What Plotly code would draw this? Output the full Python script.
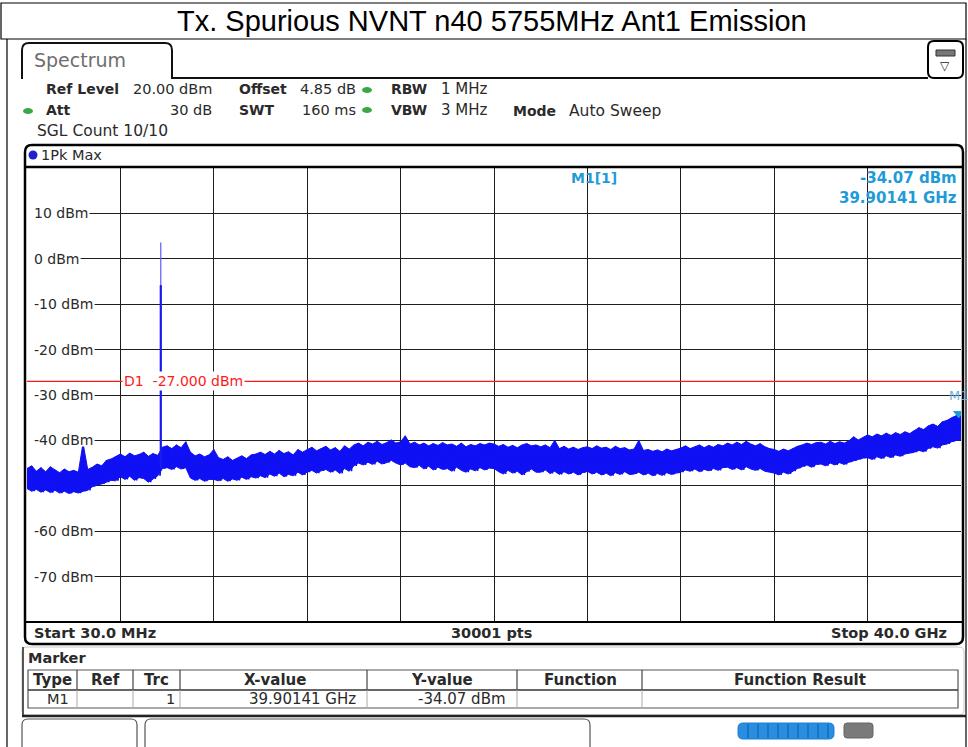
import numpy as np
import plotly.graph_objects as go

# ---------------- data ----------------
start_ghz = 0.03
stop_ghz = 40.0
n_env = 201  # envelope samples across the sweep

# peak-hold envelope of the noise floor (dBm), upper and lower edge of the trace
upper_dbm = [
    -46.2, -45.6, -46.8, -46.0, -46.9, -45.8, -46.5, -47.1, -46.3, -46.9,
    -46.6, -47.0, -40.6, -46.4, -45.9, -45.2, -45.6, -44.4, -44.1, -43.6,
    -43.0, -43.6, -42.8, -43.4, -43.1, -42.6, -43.5, -42.9, -43.3, -41.5,
    -41.2, -41.8, -41.0, -41.6, -40.3, -42.6, -43.4, -43.0, -43.6, -43.2,
    -42.0, -43.8, -44.2, -43.6, -44.4, -43.9, -43.4, -44.0, -43.2, -43.0,
    -42.6, -43.1, -42.4, -43.0, -42.2, -42.9, -42.5, -43.2, -42.0, -42.6,
    -42.0, -41.5, -42.3, -41.8, -41.3, -42.1, -41.6, -42.4, -41.2, -41.9,
    -41.0, -40.6, -41.2, -40.4, -40.8, -40.2, -40.9, -40.5, -39.9, -40.6,
    -40.3, -39.0, -40.8, -40.4, -41.0, -40.6, -41.2, -40.7, -41.1, -40.5,
    -41.0, -40.8, -41.3, -40.6, -41.4, -40.9, -41.2, -40.7, -41.0, -40.6,
    -40.8, -41.3, -40.9, -41.5, -41.1, -41.6, -41.0, -40.7, -41.2, -41.0,
    -41.4, -41.0, -41.6, -40.0, -41.8, -41.3, -41.9, -41.5, -42.0, -41.6,
    -41.4, -41.8, -41.2, -41.7, -41.5, -42.0, -41.3, -41.8, -41.6, -42.1,
    -41.9, -40.0, -42.2, -42.0, -42.4, -42.1, -42.5, -41.9, -42.3, -42.0,
    -41.7, -41.2, -41.8, -41.4, -41.0, -41.6, -41.1, -41.5, -40.9, -41.2,
    -40.6, -41.0, -40.4, -40.9, -40.2, -40.8, -41.2, -40.7, -41.4, -41.8,
    -42.0, -42.4, -41.9, -42.3, -41.8, -41.3, -41.0, -40.6, -40.9, -40.5,
    -40.4, -40.8, -40.2, -40.7, -40.3, -40.6, -40.1, -39.2, -39.9, -39.4,
    -38.8, -39.2, -38.6, -39.0, -38.4, -38.9, -38.3, -38.7, -38.1, -38.5,
    -37.8, -37.2, -37.6, -36.8, -36.4, -36.9, -35.9, -35.6, -35.0, -34.6,
    -34.1,
]
lower_dbm = [
    -50.6, -51.2, -50.8, -51.4, -50.9, -51.5, -51.0, -51.6, -51.2, -51.7,
    -51.3, -51.6, -51.2, -51.0, -50.2, -49.8, -49.6, -49.2, -48.8, -48.9,
    -48.0, -48.6, -47.9, -48.8, -48.2, -48.4, -49.2, -48.5, -47.8, -46.2,
    -46.0, -46.4, -45.8, -46.3, -46.0, -48.3, -48.8, -48.4, -49.0, -48.6,
    -48.6, -48.9, -48.4, -49.0, -48.5, -48.8, -48.1, -48.6, -48.0, -48.3,
    -47.8, -48.2, -47.4, -47.9, -47.2, -48.0, -47.5, -47.8, -47.0, -47.6,
    -47.0, -46.6, -47.2, -46.7, -46.4, -47.0, -46.5, -47.3, -46.2, -46.8,
    -45.6, -45.0, -45.4, -44.8, -45.3, -44.6, -45.2, -44.9, -44.4, -45.0,
    -45.4, -45.0, -45.8, -46.0, -45.5, -46.3, -45.7, -46.5, -45.9, -46.4,
    -46.2, -46.8, -45.9, -46.6, -47.0, -46.3, -46.7, -46.0, -46.5, -46.1,
    -46.2, -46.9, -47.4, -46.6, -47.2, -46.8, -47.6, -46.9, -46.3, -47.0,
    -47.0, -46.5, -47.3, -46.8, -47.5, -46.9, -47.4, -47.0, -47.6, -47.1,
    -46.8, -47.4, -47.0, -47.6, -47.2, -47.8, -47.1, -47.5, -46.9, -47.5,
    -47.4, -47.0, -47.6, -47.2, -47.8, -47.3, -47.7, -47.1, -47.5, -47.2,
    -47.0, -46.5, -46.8, -46.3, -46.9, -46.4, -46.7, -46.2, -46.6, -46.0,
    -45.9, -46.4, -46.0, -46.5, -45.8, -46.3, -46.6, -46.2, -46.8, -47.0,
    -47.2, -47.6, -47.0, -47.4, -46.8, -46.2, -45.8, -45.4, -45.9, -45.3,
    -45.2, -45.6, -45.0, -45.4, -44.9, -45.3, -44.8, -44.5, -44.2, -43.9,
    -43.8, -44.2, -43.6, -44.0, -43.4, -43.8, -43.2, -43.5, -43.0, -42.8,
    -42.6, -42.2, -42.5, -41.8, -41.4, -41.7, -41.0, -40.8, -40.3, -40.0,
    -39.8,
]

# carrier at 5755 MHz
carrier_ghz = 5.755
carrier_peak_dbm = 3.6
carrier_hold_dbm = -5.8
carrier_base_dbm = -46.0

# limit line and marker
limit_dbm = -27.0
marker_ghz = 39.90141
marker_dbm = -34.07

y_ticks = [10, 0, -10, -20, -30, -40, -60, -70]
y_grid = [-70, -60, -50, -40, -30, -20, -10, 0, 10]

title_text = "Tx. Spurious NVNT n40 5755MHz Ant1 Emission"

# ---------------- geometry helpers (pixel -> paper) ----------------
W, H = 968, 747
PL, PR, PT, PB = 27, 961, 168, 622


def X(px):
    return (px - PL) / (PR - PL)


def Y(py):
    return (PB - py) / (PB - PT)


def rrect(x0, y0, x1, y1, r, color="black", width=1, fill=None):
    # rounded rectangle drawn as an svg path in paper coordinates
    def P(a, b):
        return f"{X(a):.6f},{Y(b):.6f}"
    d = (f"M {P(x0 + r, y0)} L {P(x1 - r, y0)} Q {P(x1, y0)} {P(x1, y0 + r)} "
         f"L {P(x1, y1 - r)} Q {P(x1, y1)} {P(x1 - r, y1)} "
         f"L {P(x0 + r, y1)} Q {P(x0, y1)} {P(x0, y1 - r)} "
         f"L {P(x0, y0 + r)} Q {P(x0, y0)} {P(x0 + r, y0)} Z")
    return dict(type="path", xref="paper", yref="paper", path=d,
                line=dict(color=color, width=width),
                fillcolor=fill if fill else "rgba(0,0,0,0)", layer="above")


def hline(x0, x1, y, color="black", width=1):
    return dict(type="line", xref="paper", yref="paper", x0=X(x0), x1=X(x1),
                y0=Y(y), y1=Y(y), line=dict(color=color, width=width), layer="above")


def vline(x, y0, y1, color="black", width=1):
    return dict(type="line", xref="paper", yref="paper", x0=X(x), x1=X(x),
                y0=Y(y0), y1=Y(y1), line=dict(color=color, width=width), layer="above")


def dot(x, y, rx, ry, color):
    return dict(type="circle", xref="paper", yref="paper", x0=X(x - rx), x1=X(x + rx),
                y0=Y(y + ry), y1=Y(y - ry), line=dict(width=0), fillcolor=color, layer="above")


FONT = "DejaVu Sans"
CYAN = "#1f9bd7"
INK = "#2a2a2a"


def txt(x, y, s, size=14.5, color=INK, anchor="left", family=FONT, bg=None, pad=0):
    a = dict(xref="paper", yref="paper", x=X(x), y=Y(y), text=s, showarrow=False,
             xanchor=anchor, yanchor="middle", font=dict(family=family, size=size, color=color),
             borderpad=pad)
    if bg:
        a["bgcolor"] = bg
    return a


# ---------------- traces ----------------
TRACE = "#1010f4"
freqs = np.linspace(start_ghz, stop_ghz, n_env)
half = (freqs[1] - freqs[0]) / 2
zx, zy = [], []
for f, u, l in zip(freqs, upper_dbm, lower_dbm):
    zx += [f, f + half]
    zy += [u, l]

fig = go.Figure()
# solid body of the noise floor between the envelopes
fig.add_trace(go.Scatter(x=freqs, y=upper_dbm, mode="lines", line=dict(color=TRACE, width=1),
                         hoverinfo="skip", showlegend=False))
fig.add_trace(go.Scatter(x=freqs, y=lower_dbm, mode="lines", line=dict(color=TRACE, width=1),
                         fill="tonexty", fillcolor=TRACE, hoverinfo="skip", showlegend=False))
# peak/valley excursions of the trace
fig.add_trace(go.Scatter(x=zx, y=zy, mode="lines", line=dict(color=TRACE, width=1.4),
                         hoverinfo="skip", showlegend=False))
# carrier
fig.add_trace(go.Scatter(x=[carrier_ghz, carrier_ghz], y=[carrier_base_dbm, carrier_peak_dbm],
                         mode="lines", line=dict(color="#5a5aff", width=1.2), showlegend=False))
fig.add_trace(go.Scatter(x=[carrier_ghz, carrier_ghz], y=[carrier_base_dbm, carrier_hold_dbm],
                         mode="lines", line=dict(color="#1a1af0", width=2.2), showlegend=False))
# limit line D1
fig.add_trace(go.Scatter(x=[start_ghz, stop_ghz], y=[limit_dbm, limit_dbm], mode="lines",
                         line=dict(color="#ff1a1a", width=1.2), showlegend=False))
# marker M1
fig.add_trace(go.Scatter(x=[marker_ghz], y=[marker_dbm], mode="markers",
                         marker=dict(symbol="triangle-down", size=10, color=CYAN),
                         showlegend=False))

div = (stop_ghz - start_ghz) / 10
x_grid = [start_ghz + k * div for k in range(1, 10)]

shapes = []
ann = []

# y labels inside the diagram; a white patch under each label hides the grid line
CHAR_W = {"-": 5.1, " ": 4.5, "d": 8.9, "B": 9.6, "m": 13.7}
for v in y_ticks:
    py = PB - (v + 80) / 100 * (PB - PT)
    label = f"{v} dBm"
    w = sum(CHAR_W.get(c, 8.9) for c in label)
    shapes.append(dict(type="rect", xref="paper", yref="paper", x0=X(26), x1=X(33 + w + 2),
                       y0=Y(py + 6), y1=Y(py - 6), line=dict(width=0), fillcolor="white",
                       layer="above"))
    ann.append(txt(33, py, label, size=14))

# title box and page frame
shapes.append(dict(type="rect", xref="paper", yref="paper", x0=X(1), x1=X(966), y0=Y(39), y1=Y(3),
                   line=dict(color="black", width=1.2), layer="above"))
shapes.append(vline(7, 39, 747, width=1.2))
shapes.append(vline(966, 39, 747, width=1.2))
ann.append(txt(492, 21, title_text, size=29, color="black", anchor="center", family="Liberation Sans"))

# spectrum tab
tab = (f"M {X(22):.6f},{Y(79):.6f} L {X(22):.6f},{Y(50):.6f} Q {X(22):.6f},{Y(43):.6f} {X(29):.6f},{Y(43):.6f} "
       f"L {X(165):.6f},{Y(43):.6f} Q {X(172):.6f},{Y(43):.6f} {X(172):.6f},{Y(50):.6f} "
       f"L {X(172):.6f},{Y(78):.6f} L {X(928):.6f},{Y(78):.6f}")
shapes.append(dict(type="path", xref="paper", yref="paper", path=tab,
                   line=dict(color="#111111", width=2), layer="above"))
ann.append(txt(33, 60, "Spectrum", size=19, color="#6e6e6e"))
# menu icon
shapes.append(rrect(928, 41, 963, 78, 6, width=2))
shapes.append(dict(type="rect", xref="paper", yref="paper", x0=X(936), x1=X(955), y0=Y(56), y1=Y(50),
                   line=dict(color="#333", width=1), fillcolor="#777", layer="above"))
ann.append(txt(945, 66, "▽", size=12, color="#222", anchor="center"))

# header parameters
G = "#3aa845"
ann += [
    txt(45, 89, "<b>Ref Level</b>", size=14), txt(213, 89, "20.00 dBm", anchor="right"),
    txt(238, 89, "<b>Offset</b>", size=14), txt(357, 89, "4.85 dB", anchor="right"),
    txt(390, 89, "<b>RBW</b>", size=14), txt(440, 89, "1 MHz", size=15),
    txt(45, 110, "<b>Att</b>", size=14), txt(213, 110, "30 dB", anchor="right"),
    txt(238, 110, "<b>SWT</b>", size=14), txt(357, 110, "160 ms", anchor="right"),
    txt(390, 110, "<b>VBW</b>", size=14), txt(440, 110, "3 MHz", size=15),
    txt(512, 111, "<b>Mode</b>", size=14), txt(568, 111, "Auto Sweep", size=15.5),
    txt(36, 131, "SGL Count 10/10", size=15.5),
]
shapes += [dot(367, 90, 5, 3, G), dot(367, 110, 5, 3, G), dot(28, 111, 5, 3, G)]

# diagram frame
shapes.append(rrect(25, 145, 963, 644, 7, width=2.5))
shapes.append(hline(25, 963, 167, width=2.5))
shapes.append(hline(25, 963, 622, width=2))
shapes.append(dot(33, 155, 4.5, 4.5, "#2222cc"))
ann.append(txt(40, 155, "1Pk Max", size=14.5))

# limit label
ann.append(txt(122, 381, "D1  -27.000 dBm", size=14, color="#ff1a1a", bg="white", pad=1))

# marker readout
ann += [
    txt(570, 178, "<b>M1[1]</b>", size=14, color=CYAN),
    txt(958, 178, "<b>-34.07 dBm</b>", size=15, color=CYAN, anchor="right"),
    txt(958, 198, "<b>39.90141 GHz</b>", size=15, color=CYAN, anchor="right"),
]
ann.append(dict(x=marker_ghz, y=marker_dbm, xref="x", yref="y", text="M1", showarrow=False,
                yshift=18, font=dict(family=FONT, size=13, color="#6fb0d8")))

# footer of diagram
ann += [
    txt(33, 633, "<b>Start 30.0 MHz</b>"),
    txt(491, 633, "<b>30001 pts</b>", anchor="center"),
    txt(948, 633, "<b>Stop 40.0 GHz</b>", anchor="right"),
]

# marker table
shapes.append(rrect(22, 647, 964, 715, 5, color="#c8c8c8", width=1))
shapes.append(vline(23, 647, 715, color="#222", width=1.5))
ann.append(txt(27, 658, "<b>Marker</b>"))
shapes.append(dict(type="rect", xref="paper", yref="paper", x0=X(28), x1=X(958), y0=Y(708), y1=Y(670),
                   line=dict(color="#555", width=1.2), layer="above"))
shapes.append(hline(28, 958, 690, color="#333", width=1.5))
cols = [77, 133, 180, 367, 517, 642]
for c in cols:
    shapes.append(vline(c, 670, 690, color="#444", width=1.2))
    shapes.append(vline(c, 690, 708, color="#aaa", width=1))
heads = [("Type", 52), ("Ref", 105), ("Trc", 156), ("X-value", 275), ("Y-value", 442),
         ("Function", 580), ("Function Result", 800)]
for h, cx in heads:
    ann.append(txt(cx, 680, f"<b>{h}</b>", size=15, anchor="center"))
ann += [
    txt(70, 699, "M1", size=14.5, anchor="right"),
    txt(176, 699, "1", size=14.5, anchor="right"),
    txt(357, 699, "39.90141 GHz", size=15, anchor="right"),
    txt(507, 699, "-34.07 dBm", size=15, anchor="right"),
]

# status bar
shapes.append(hline(22, 966, 716, color="#222", width=2.5))
shapes.append(rrect(22, 719, 137, 760, 6, color="#555", width=1.2))
shapes.append(rrect(145, 719, 590, 760, 6, color="#555", width=1.2))
shapes.append(rrect(738, 723, 834, 739, 5, color="#1a7fd0", width=1, fill="#2a8ee0"))
for sx in range(748, 834, 10):
    shapes.append(vline(sx, 724, 738, color="#0b5fa8", width=1))
shapes.append(rrect(844, 723, 873, 738, 3, color="#666", width=1, fill="#7a7a7a"))

fig.update_layout(
    width=W, height=H,
    margin=dict(l=PL, r=W - PR, t=PT, b=H - PB),
    paper_bgcolor="white", plot_bgcolor="white",
    shapes=shapes, annotations=ann, showlegend=False,
    xaxis=dict(range=[start_ghz, stop_ghz], tickvals=x_grid, showticklabels=False,
               showgrid=True, gridcolor="#1e1e1e", gridwidth=1, zeroline=False, showline=False,
               ticks=""),
    yaxis=dict(range=[-80, 20], tickvals=y_grid, showticklabels=False,
               showgrid=True, gridcolor="#1e1e1e", gridwidth=1, zeroline=False, showline=False,
               ticks=""),
)

fig.write_html("out.html")
